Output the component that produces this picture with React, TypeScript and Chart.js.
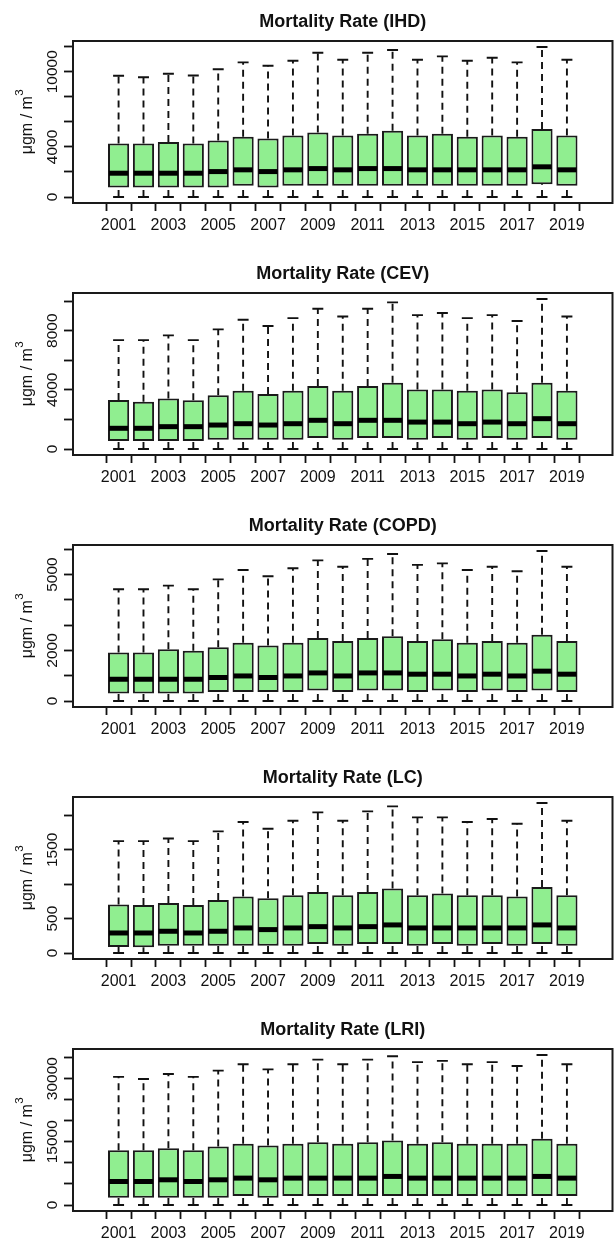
import React, { useEffect, useRef } from 'react';
import { Chart, registerables } from 'chart.js';

Chart.register(...registerables);

const FONT = '"Liberation Sans", Arial, Helvetica, sans-serif';

const years = ['2001', '2002', '2003', '2004', '2005', '2006', '2007', '2008', '2009', '2010',
  '2011', '2012', '2013', '2014', '2015', '2016', '2017', '2018', '2019'];

// IHD
const ihdMin = [0, 0, 0, 0, 0, 0, 0, 0, 0, 0, 0, 0, 0, 0, 0, 0, 0, 0, 0];
const ihdQ1 = [750, 750, 750, 750, 750, 900, 750, 900, 900, 900, 900, 900, 900, 900, 900, 900, 900, 1020, 900];
const ihdMedian = [1900, 1900, 1900, 1900, 2030, 2170, 2030, 2170, 2270, 2170, 2270, 2270, 2170, 2170, 2170, 2170, 2170, 2410, 2170];
const ihdQ3 = [4280, 4280, 4390, 4280, 4520, 4810, 4680, 4920, 5160, 4920, 5050, 5290, 4920, 5050, 4810, 4920, 4810, 5430, 4920];
const ihdMax = [9680, 9570, 9840, 9700, 10200, 10750, 10480, 10880, 11520, 10960, 11520, 11740, 10960, 11230, 10880, 11120, 10750, 11980, 10960];
const ihdYTicks = [0, 2000, 4000, 6000, 8000, 10000, 12000];
const ihdYLabels = [0, 4000, 10000];

// CEV
const cevMin = [0, 0, 0, 0, 0, 0, 0, 0, 0, 0, 0, 0, 0, 0, 0, 0, 0, 0, 0];
const cevQ1 = [540, 540, 540, 540, 630, 630, 630, 630, 740, 630, 740, 740, 630, 740, 630, 740, 630, 740, 630];
const cevMedian = [1400, 1400, 1510, 1510, 1620, 1710, 1620, 1710, 1940, 1710, 1940, 1940, 1820, 1820, 1710, 1820, 1710, 2050, 1710];
const cevQ3 = [3310, 3200, 3420, 3290, 3630, 3940, 3720, 3940, 4260, 3940, 4260, 4480, 4030, 4030, 3940, 4030, 3830, 4480, 3940];
const cevMax = [7360, 7360, 7680, 7360, 8090, 8740, 8310, 8850, 9480, 8960, 9480, 9910, 9050, 9190, 8850, 9050, 8650, 10140, 8960];
const cevYTicks = [0, 2000, 4000, 6000, 8000, 10000];
const cevYLabels = [0, 4000, 8000];

// COPD
const copdMin = [0, 0, 0, 0, 0, 0, 0, 0, 0, 0, 0, 0, 0, 0, 0, 0, 0, 0, 0];
const copdQ1 = [300, 300, 300, 300, 360, 360, 360, 360, 420, 360, 420, 420, 360, 420, 360, 420, 360, 420, 360];
const copdMedian = [860, 860, 860, 860, 930, 990, 930, 990, 1110, 990, 1110, 1110, 1060, 1060, 990, 1060, 990, 1180, 1060];
const copdQ3 = [1920, 1920, 2050, 1990, 2120, 2300, 2190, 2300, 2490, 2370, 2490, 2560, 2370, 2440, 2300, 2370, 2300, 2620, 2370];
const copdMax = [4420, 4420, 4560, 4420, 4810, 5180, 4930, 5250, 5560, 5310, 5620, 5810, 5380, 5440, 5180, 5310, 5130, 5930, 5310];
const copdYTicks = [0, 1000, 2000, 3000, 4000, 5000, 6000];
const copdYLabels = [0, 2000, 5000];

// LC
const lcMin = [0, 0, 0, 0, 0, 0, 0, 0, 0, 0, 0, 0, 0, 0, 0, 0, 0, 0, 0];
const lcQ1 = [87, 83, 107, 107, 107, 107, 107, 107, 131, 107, 131, 131, 107, 131, 107, 131, 107, 131, 107];
const lcMedian = [291, 291, 316, 291, 316, 364, 340, 364, 383, 364, 383, 408, 364, 364, 364, 364, 364, 408, 364];
const lcQ3 = [704, 699, 728, 699, 772, 820, 796, 840, 888, 840, 888, 937, 840, 864, 840, 840, 820, 961, 840];
const lcMax = [1626, 1626, 1665, 1626, 1767, 1903, 1806, 1922, 2044, 1922, 2058, 2131, 1971, 1971, 1903, 1947, 1879, 2180, 1922];
const lcYTicks = [0, 500, 1000, 1500, 2000];
const lcYLabels = [0, 500, 1500];

// LRI
const lriMin = [0, 0, 0, 0, 0, 0, 0, 0, 0, 0, 0, 0, 0, 0, 0, 0, 0, 0, 0];
const lriQ1 = [1750, 1750, 1750, 1750, 1750, 2150, 1750, 2150, 2150, 2150, 2150, 2150, 2150, 2150, 2150, 2150, 2150, 2150, 2150];
const lriMedian = [5580, 5580, 5980, 5580, 5980, 6380, 5980, 6380, 6380, 6380, 6380, 6780, 6380, 6380, 6380, 6380, 6380, 6780, 6380];
const lriQ3 = [13000, 13000, 13480, 13000, 13880, 14520, 14120, 14520, 14920, 14520, 14920, 15310, 14520, 14920, 14520, 14520, 14520, 15710, 14520];
const lriMax = [30400, 29900, 31100, 30400, 31900, 33400, 32200, 33400, 34500, 33400, 34500, 35300, 33900, 34200, 33400, 33900, 33000, 35600, 33400];
const lriYTicks = [0, 5000, 10000, 15000, 20000, 25000, 30000, 35000];
const lriYLabels = [0, 15000, 30000];

type Spec = {
  title: string;
  min: number[]; q1: number[]; median: number[]; q3: number[]; max: number[];
  yTicks: number[]; yLabels: number[];
};

const panels: Spec[] = [
  { title: 'Mortality Rate (IHD)', min: ihdMin, q1: ihdQ1, median: ihdMedian, q3: ihdQ3, max: ihdMax, yTicks: ihdYTicks, yLabels: ihdYLabels },
  { title: 'Mortality Rate (CEV)', min: cevMin, q1: cevQ1, median: cevMedian, q3: cevQ3, max: cevMax, yTicks: cevYTicks, yLabels: cevYLabels },
  { title: 'Mortality Rate (COPD)', min: copdMin, q1: copdQ1, median: copdMedian, q3: copdQ3, max: copdMax, yTicks: copdYTicks, yLabels: copdYLabels },
  { title: 'Mortality Rate (LC)', min: lcMin, q1: lcQ1, median: lcMedian, q3: lcQ3, max: lcMax, yTicks: lcYTicks, yLabels: lcYLabels },
  { title: 'Mortality Rate (LRI)', min: lriMin, q1: lriQ1, median: lriMedian, q3: lriQ3, max: lriMax, yTicks: lriYTicks, yLabels: lriYLabels },
];

const INK = '#111';

function makeBoxPlugin(spec: Spec) {
  return {
    id: 'boxDecor',
    beforeDatasetsDraw(chart: any) {
      const { ctx, scales } = chart;
      const x = scales.x, y = scales.y;
      const unit = Math.abs(x.getPixelForValue(2) - x.getPixelForValue(1));
      const staple = unit * 0.22;
      ctx.save();
      ctx.strokeStyle = INK;
      ctx.lineWidth = 1.9;
      ctx.lineCap = 'butt';
      spec.q1.forEach((_, i) => {
        const cx = x.getPixelForValue(i + 1);
        const yMax = y.getPixelForValue(spec.max[i]);
        const yMin = y.getPixelForValue(spec.min[i]);
        const yQ1 = y.getPixelForValue(spec.q1[i]);
        const yQ3 = y.getPixelForValue(spec.q3[i]);
        ctx.setLineDash([7, 5]);
        ctx.beginPath();
        ctx.moveTo(cx, yQ3); ctx.lineTo(cx, yMax);
        ctx.stroke();
        ctx.beginPath();
        ctx.moveTo(cx, yMin); ctx.lineTo(cx, yQ1);
        ctx.stroke();
        ctx.setLineDash([]);
        ctx.beginPath();
        ctx.moveTo(cx - staple, yMax); ctx.lineTo(cx + staple, yMax);
        ctx.moveTo(cx - staple, yMin); ctx.lineTo(cx + staple, yMin);
        ctx.stroke();
      });
      ctx.restore();
    },
    afterDatasetsDraw(chart: any) {
      const { ctx, scales } = chart;
      const y = scales.y;
      const meta = chart.getDatasetMeta(0);
      ctx.save();
      ctx.strokeStyle = '#000';
      ctx.lineWidth = 5;
      ctx.lineCap = 'butt';
      meta.data.forEach((bar: any, i: number) => {
        const { x: bx, width } = bar.getProps(['x', 'width'], true);
        const ym = y.getPixelForValue(spec.median[i]);
        ctx.beginPath();
        ctx.moveTo(bx - width / 2 + 1, ym);
        ctx.lineTo(bx + width / 2 - 1, ym);
        ctx.stroke();
      });
      ctx.restore();
    },
    afterDraw(chart: any) {
      const { ctx, chartArea: a, scales } = chart;
      const y = scales.y;
      ctx.save();
      // frame
      ctx.strokeStyle = '#1a1a1a';
      ctx.lineWidth = 2;
      ctx.strokeRect(a.left, a.top, a.right - a.left, a.bottom - a.top);
      // title
      ctx.fillStyle = INK;
      ctx.font = `bold 18px ${FONT}`;
      ctx.textAlign = 'center';
      ctx.textBaseline = 'middle';
      ctx.fillText(spec.title, (a.left + a.right) / 2, 21.7);
      // y tick labels (rotated)
      ctx.font = `15.5px ${FONT}`;
      ctx.textBaseline = 'alphabetic';
      spec.yLabels.forEach((v) => {
        const py = y.getPixelForValue(v);
        ctx.save();
        ctx.translate(a.left - 16.5, py);
        ctx.rotate(-Math.PI / 2);
        ctx.textAlign = 'center';
        ctx.fillText(String(v), 0, 0);
        ctx.restore();
      });
      // y axis title: μgm / m^3
      const main = 'μgm / m';
      ctx.font = `16px ${FONT}`;
      const wMain = ctx.measureText(main).width;
      ctx.font = `11.5px ${FONT}`;
      const wSup = ctx.measureText('3').width;
      const total = wMain + wSup;
      ctx.save();
      ctx.translate(31.5, (a.top + a.bottom) / 2);
      ctx.rotate(-Math.PI / 2);
      ctx.textAlign = 'left';
      ctx.font = `16px ${FONT}`;
      ctx.fillText(main, -total / 2, 0);
      ctx.font = `11.5px ${FONT}`;
      ctx.fillText('3', -total / 2 + wMain + 0.5, -9);
      ctx.restore();
      ctx.restore();
    },
  };
}

function Panel({ spec, top }: { spec: Spec; top: number }) {
  const ref = useRef<HTMLCanvasElement>(null);
  useEffect(() => {
    if (!ref.current) return;
    const lo = Math.min(...spec.min);
    const hi = Math.max(...spec.max);
    const ext = (hi - lo) * 0.04;
    const xLo = 0.5;
    const xHi = years.length + 0.5;
    const xExt = (xHi - xLo) * 0.04;
    const chart = new Chart(ref.current, {
      type: 'bar',
      data: {
        datasets: [{
          data: years.map((_, i) => ({ x: i + 1, y: [spec.q1[i], spec.q3[i]] })) as any,
          backgroundColor: '#90EE90',
          borderColor: '#1a1a1a',
          borderWidth: 2,
          borderSkipped: false,
          barPercentage: 0.85,
          categoryPercentage: 1,
        }],
      },
      options: {
        responsive: false,
        maintainAspectRatio: false,
        animation: false,
        devicePixelRatio: 1,
        events: [],
        layout: { padding: { top: 41, right: 1.5, left: 0, bottom: 0 } },
        plugins: {
          legend: { display: false },
          tooltip: { enabled: false },
          title: { display: false },
        },
        scales: {
          x: {
            type: 'linear',
            bounds: 'data',
            min: xLo - xExt,
            max: xHi + xExt,
            afterBuildTicks: (s: any) => { s.ticks = years.map((_, i) => ({ value: i + 1 })); },
            afterFit: (s: any) => { s.height = 49; },
            ticks: {
              autoSkip: false,
              maxRotation: 0,
              minRotation: 0,
              padding: 5,
              color: INK,
              font: { family: FONT, size: 16 },
              callback: (_v: any, i: number) => (i % 2 === 0 ? years[i] : ''),
            },
            grid: { display: true, drawOnChartArea: false, drawTicks: true, tickLength: 8, tickColor: INK, tickWidth: 1.8 },
            border: { display: false },
          },
          y: {
            type: 'linear',
            bounds: 'data',
            min: lo - ext,
            max: hi + ext,
            afterBuildTicks: (s: any) => { s.ticks = spec.yTicks.map((v) => ({ value: v })); },
            afterFit: (s: any) => { s.width = 73; },
            ticks: { display: false },
            grid: { display: true, drawOnChartArea: false, drawTicks: true, tickLength: 9, tickColor: INK, tickWidth: 1.8 },
            border: { display: false },
          },
        },
      } as any,
      plugins: [makeBoxPlugin(spec)],
    });
    return () => chart.destroy();
  }, [spec]);
  return (
    <div style={{ position: 'absolute', left: 0, top, width: 614, height: 252 }}>
      <canvas ref={ref} width={614} height={252} style={{ display: 'block' }} />
    </div>
  );
}

export default function App() {
  return (
    <div style={{ position: 'absolute', left: 0, top: 0, width: 614, height: 1242, overflow: 'hidden', background: '#fff' }}>
      {panels.map((p, k) => (
        <Panel key={p.title} spec={p} top={k * 252} />
      ))}
    </div>
  );
}
